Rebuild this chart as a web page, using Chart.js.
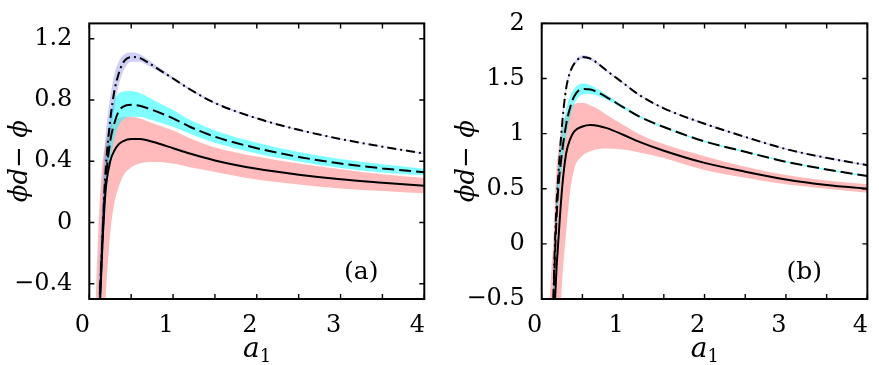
<!DOCTYPE html>
<html>
<head>
<meta charset="utf-8">
<script src="https://cdn.jsdelivr.net/npm/chart.js@4"></script>
<style>
  body { margin: 0; background: #fff; }
  #wrap { position: relative; width: 879px; height: 365px; overflow: hidden; }
  canvas { position: absolute; top: 0; }
</style>
</head>
<body>
<div id="wrap">
  <canvas id="chartA" width="440" height="365" style="left:0"></canvas>
  <canvas id="chartB" width="439" height="365" style="left:440px"></canvas>
</div>
<script>
// sample points along a1 (shared by both panels)
const a1 = [0.06, 0.08, 0.1, 0.12, 0.14, 0.16, 0.18, 0.2, 0.25, 0.3, 0.35, 0.4,
  0.5, 0.6, 0.7, 0.8, 1.0, 1.2, 1.5, 2.0, 2.5, 3.0, 3.5, 4.0];

// tick positions
const xTicks = [0, 0.5, 1, 1.5, 2, 2.5, 3, 3.5, 4];
const yTicksA = [-0.4, 0, 0.4, 0.8, 1.2];
const yTicksB = [-0.5, 0, 0.5, 1, 1.5, 2];

// panel (a)
const solidA   = [-1.4, -1.15, -0.9, -0.62, -0.36, -0.1, 0.1, 0.24, 0.4, 0.47, 0.51, 0.53, 0.545, 0.545, 0.535, 0.52, 0.485, 0.45, 0.405, 0.35, 0.312, 0.282, 0.26, 0.24];
const pinkLoA  = [-2.0, -1.8, -1.6, -1.4, -1.15, -0.9, -0.68, -0.45, -0.07, 0.13, 0.23, 0.3, 0.36, 0.385, 0.394, 0.395, 0.385, 0.36, 0.33, 0.28, 0.248, 0.222, 0.205, 0.19];
const pinkHiA  = [-0.8, -0.45, -0.15, 0.1, 0.27, 0.4, 0.48, 0.54, 0.62, 0.66, 0.68, 0.688, 0.69, 0.68, 0.66, 0.64, 0.6, 0.55, 0.49, 0.43, 0.385, 0.348, 0.315, 0.29];
const dashedA  = [-1.35, -1.1, -0.85, -0.58, -0.33, -0.08, 0.15, 0.3, 0.53, 0.65, 0.725, 0.755, 0.768, 0.762, 0.745, 0.725, 0.68, 0.625, 0.56, 0.485, 0.428, 0.385, 0.353, 0.328];
const cyanLoA  = [-1.5, -1.25, -1.0, -0.75, -0.5, -0.25, -0.02, 0.15, 0.4, 0.55, 0.63, 0.67, 0.69, 0.69, 0.675, 0.66, 0.625, 0.58, 0.52, 0.45, 0.398, 0.356, 0.327, 0.308];
const cyanHiA  = [-1.2, -0.95, -0.7, -0.42, -0.15, 0.08, 0.3, 0.45, 0.68, 0.8, 0.84, 0.855, 0.858, 0.845, 0.82, 0.79, 0.735, 0.67, 0.6, 0.52, 0.46, 0.415, 0.38, 0.35];
const dashdotA = [-1.3, -1.05, -0.8, -0.55, -0.3, -0.05, 0.2, 0.38, 0.67, 0.86, 0.97, 1.04, 1.08, 1.075, 1.045, 1.01, 0.94, 0.87, 0.78, 0.68, 0.605, 0.545, 0.495, 0.45];
const blueLoA  = [-1.55, -1.3, -1.05, -0.8, -0.55, -0.3, -0.05, 0.15, 0.52, 0.75, 0.89, 0.98, 1.05, 1.05, 1.025, 0.995, 0.93, 0.862, 0.774, 0.675, 0.601, 0.542, 0.492, 0.447];
const blueHiA  = [-1.05, -0.8, -0.52, -0.25, 0.0, 0.25, 0.45, 0.6, 0.82, 0.97, 1.05, 1.09, 1.11, 1.1, 1.065, 1.025, 0.95, 0.878, 0.786, 0.685, 0.609, 0.548, 0.498, 0.453];

// panel (b)
const solidB   = [-3.2, -2.6, -2.0, -1.5, -1.0, -0.57, -0.25, -0.02, 0.5, 0.82, 0.95, 1.02, 1.065, 1.078, 1.07, 1.05, 0.99, 0.925, 0.845, 0.735, 0.655, 0.585, 0.535, 0.5];
const pinkLoB  = [-3.5, -3.2, -2.9, -2.6, -2.3, -1.95, -1.55, -1.1, -0.35, 0.1, 0.48, 0.68, 0.8, 0.84, 0.86, 0.865, 0.855, 0.83, 0.78, 0.67, 0.6, 0.54, 0.5, 0.463];
const pinkHiB  = [-1.2, -0.85, -0.5, -0.22, -0.02, 0.35, 0.65, 0.82, 1.05, 1.17, 1.23, 1.27, 1.28, 1.255, 1.22, 1.17, 1.08, 0.995, 0.905, 0.795, 0.7, 0.625, 0.575, 0.54];
const dashedB  = [-3.0, -2.3, -1.65, -1.1, -0.65, -0.17, 0.2, 0.47, 0.83, 1.08, 1.24, 1.34, 1.405, 1.4, 1.37, 1.33, 1.24, 1.155, 1.06, 0.93, 0.835, 0.745, 0.675, 0.615];
const cyanLoB  = [-3.2, -2.5, -1.85, -1.3, -0.85, -0.35, 0.02, 0.3, 0.7, 0.97, 1.15, 1.27, 1.355, 1.36, 1.34, 1.31, 1.225, 1.145, 1.052, 0.923, 0.828, 0.738, 0.668, 0.608];
const cyanHiB  = [-2.7, -2.0, -1.4, -0.85, -0.38, 0.05, 0.4, 0.65, 1.0, 1.22, 1.34, 1.41, 1.455, 1.44, 1.4, 1.35, 1.255, 1.165, 1.068, 0.937, 0.842, 0.752, 0.682, 0.622];
const dashdotB = [-2.9, -2.2, -1.6, -1.05, -0.58, -0.06, 0.33, 0.58, 1.08, 1.41, 1.56, 1.635, 1.695, 1.68, 1.63, 1.57, 1.46, 1.35, 1.23, 1.09, 0.97, 0.86, 0.78, 0.714];
const blueLoB  = [-3.0, -2.35, -1.75, -1.2, -0.74, -0.2, 0.22, 0.5, 1.03, 1.38, 1.54, 1.62, 1.68, 1.666, 1.618, 1.56, 1.451, 1.342, 1.222, 1.083, 0.963, 0.853, 0.773, 0.707];
const blueHiB  = [-2.8, -2.1, -1.45, -0.9, -0.42, 0.08, 0.44, 0.68, 1.13, 1.44, 1.58, 1.65, 1.71, 1.694, 1.642, 1.58, 1.469, 1.358, 1.238, 1.097, 0.977, 0.867, 0.787, 0.721];

const serif = '"DejaVu Serif", "Liberation Serif", serif';
const pink = 'rgba(255, 120, 120, 0.5)';
const cyan = 'rgba(0, 255, 255, 0.5)';
const blue = 'rgba(100, 100, 230, 0.3)';

function pts(arr) {
  return a1.map((x, i) => ({ x: x, y: arr[i] }));
}

function curve(arr, dash, order) {
  return {
    data: pts(arr), borderColor: '#000', borderWidth: 2, borderDash: dash,
    pointRadius: 0, fill: false, order: order, cubicInterpolationMode: 'monotone'
  };
}

function edge(arr, order, fillTo, color) {
  return {
    data: pts(arr), borderColor: 'rgba(0,0,0,0)', borderWidth: 0, pointRadius: 0,
    backgroundColor: color, fill: fillTo === null ? false : fillTo,
    order: order, cubicInterpolationMode: 'monotone'
  };
}

function fmt(v) {
  return v < 0 ? '\u2212' + Math.abs(v) : String(v);
}

// box, inward ticks, axis titles and panel letter
const frame = {
  id: 'frame',
  afterDraw(chart, args, opts) {
    const { ctx, chartArea: a, scales: { x, y } } = chart;
    ctx.save();
    ctx.strokeStyle = '#000';
    ctx.lineWidth = 2;
    ctx.strokeRect(a.left, a.top, a.right - a.left, a.bottom - a.top);
    ctx.lineWidth = 1.4;
    ctx.beginPath();
    x.ticks.forEach(t => {
      const px = x.getPixelForValue(t.value);
      ctx.moveTo(px, a.bottom); ctx.lineTo(px, a.bottom - 5);
      ctx.moveTo(px, a.top); ctx.lineTo(px, a.top + 5);
    });
    y.ticks.forEach(t => {
      const py = y.getPixelForValue(t.value);
      ctx.moveTo(a.left, py); ctx.lineTo(a.left + 5, py);
      ctx.moveTo(a.right, py); ctx.lineTo(a.right - 5, py);
    });
    ctx.stroke();

    ctx.fillStyle = '#000';
    ctx.textBaseline = 'alphabetic';
    // panel letter
    ctx.font = '25px ' + serif;
    ctx.textAlign = 'center';
    ctx.fillText(opts.letter, a.right - 63, a.bottom - 20);
    // x title: a_1
    const cx = (a.left + a.right) / 2;
    ctx.font = 'italic 28px ' + serif;
    ctx.textAlign = 'right';
    ctx.fillText('a', cx + 3, 357);
    ctx.font = '18px ' + serif;
    ctx.textAlign = 'left';
    ctx.fillText('1', cx + 3, 362);
    // y title
    ctx.translate(a.left - opts.yTitleGap, (a.top + a.bottom) / 2);
    ctx.rotate(-Math.PI / 2);
    ctx.font = 'italic 26px ' + serif;
    ctx.textAlign = 'center';
    ctx.textBaseline = 'middle';
    ctx.fillText('\u03D5d\u2212 \u03D5', 0, 0);
    ctx.restore();
  }
};

function makeChart(id, s, yTicks, ymin, ymax, leftW, rightPad, topPad, letter, gap) {
  return new Chart(document.getElementById(id), {
    type: 'line',
    data: {
      datasets: [
        curve(s.solid, [], 0),
        curve(s.dashed, [12, 5], 0),
        curve(s.dashdot, [9, 4, 2, 4], 0),
        edge(s.pinkLo, 3, null, pink),
        edge(s.pinkHi, 3, 3, pink),
        edge(s.cyanLo, 2, null, cyan),
        edge(s.cyanHi, 2, 5, cyan),
        edge(s.blueLo, 1, null, blue),
        edge(s.blueHi, 1, 7, blue)
      ]
    },
    options: {
      responsive: false,
      animation: false,
      events: [],
      layout: { padding: { left: 0, right: rightPad, top: topPad, bottom: 0 } },
      plugins: {
        legend: { display: false },
        tooltip: { enabled: false },
        frame: { letter: letter, yTitleGap: gap }
      },
      scales: {
        x: {
          type: 'linear', min: 0, max: 4,
          afterBuildTicks: sc => { sc.ticks = xTicks.map(v => ({ value: v })); },
          afterFit: sc => { sc.height = 66; },
          grid: { display: false },
          border: { display: false },
          ticks: {
            autoSkip: false, maxRotation: 0, padding: 4, labelOffset: -7, color: '#000',
            font: { family: serif, size: 24 },
            callback: v => Number.isInteger(v) ? fmt(v) : ''
          }
        },
        y: {
          type: 'linear', min: ymin, max: ymax,
          afterBuildTicks: sc => { sc.ticks = yTicks.map(v => ({ value: v })); },
          afterFit: sc => { sc.width = leftW; },
          grid: { display: false },
          border: { display: false },
          ticks: {
            autoSkip: false, padding: 9, color: '#000',
            font: { family: serif, size: 24 },
            callback: v => fmt(v)
          }
        }
      }
    },
    plugins: [frame]
  });
}

makeChart('chartA', {
  solid: solidA, dashed: dashedA, dashdot: dashdotA,
  pinkLo: pinkLoA, pinkHi: pinkHiA, cyanLo: cyanLoA, cyanHi: cyanHiA,
  blueLo: blueLoA, blueHi: blueHiA
}, yTicksA, -0.5, 1.3, 89.3, 15.7, 10.7, '(a)', 69);

makeChart('chartB', {
  solid: solidB, dashed: dashedB, dashdot: dashdotB,
  pinkLo: pinkLoB, pinkHi: pinkHiB, cyanLo: cyanLoB, cyanHi: cyanHiB,
  blueLo: blueLoB, blueHi: blueHiB
}, yTicksB, -0.5, 2, 101.7, 2.3, 10, '(b)', 74);
</script>
</body>
</html>
